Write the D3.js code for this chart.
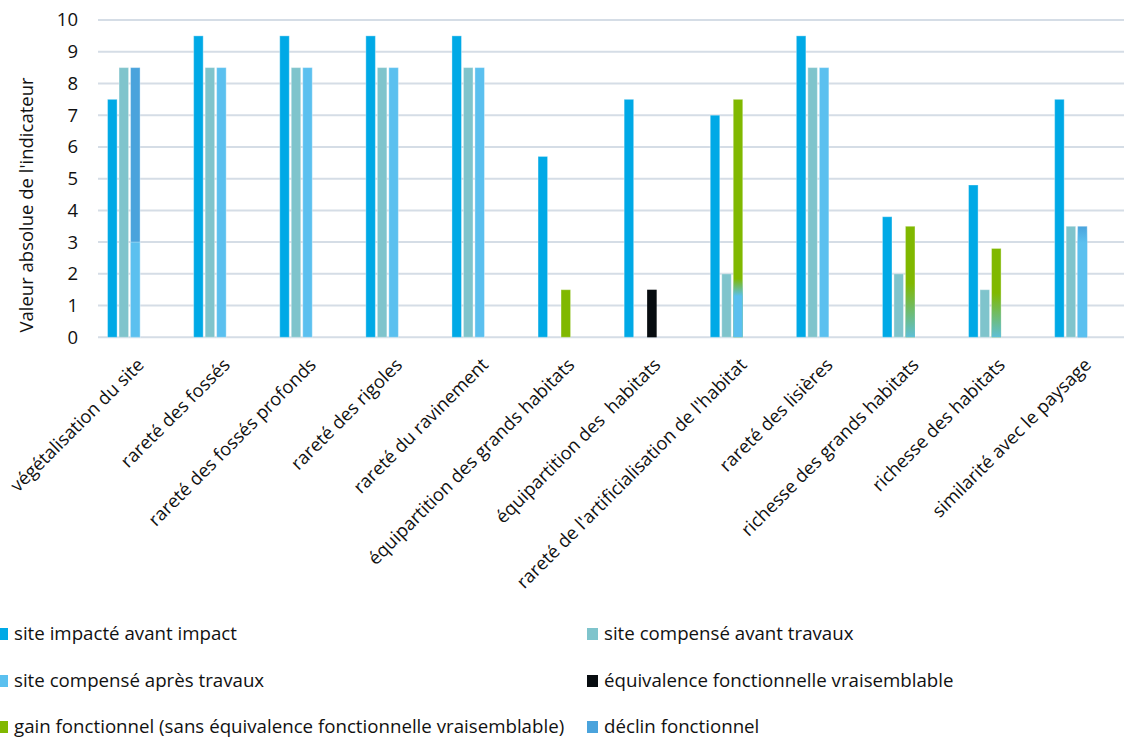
<!DOCTYPE html>
<html lang="fr">
<head>
<meta charset="utf-8">
<script src="https://cdn.jsdelivr.net/npm/d3@7"></script>
<style>
  html, body { margin: 0; padding: 0; background: #ffffff; }
  svg { display: block; font-family: "Open Sans", "Noto Sans", sans-serif; }
</style>
</head>
<body>
<svg id="chart" width="1124" height="740"></svg>
<script>
// Indicateurs évalués
const categories = [
  "végétalisation du site",
  "rareté des fossés",
  "rareté des fossés profonds",
  "rareté des rigoles",
  "rareté du ravinement",
  "équipartition des grands habitats",
  "équipartition des  habitats",
  "rareté de l'artificialisation de l'habitat",
  "rareté des lisières",
  "richesse des grands habitats",
  "richesse des habitats",
  "similarité avec le paysage"
];

// Valeur absolue de chaque indicateur, par série
const siteImpacteAvant   = [7.5, 9.5, 9.5, 9.5, 9.5, 5.7, 7.5, 7.0, 9.5, 3.8, 4.8, 7.5];
const siteCompenseAvant  = [8.5, 8.5, 8.5, 8.5, 8.5, 0,   0,   2.0, 8.5, 2.0, 1.5, 3.5];
const siteCompenseApres  = [3.0, 8.5, 8.5, 8.5, 8.5, 0,   0,   1.85, 8.5, 1.7, 1.4, 3.5];
const equivalence        = [0,   0,   0,   0,   0,   0,   1.5, 0,   0,   0,   0,   0];
const gainFonctionnel    = [0,   0,   0,   0,   0,   1.5, 0,   7.5, 0,   3.5, 2.8, 0];
const declinFonctionnel  = [8.5, 0,   0,   0,   0,   0,   0,   0,   0,   0,   0,   3.5];

const seriesNames = [
  "site impacté avant impact",
  "site compensé avant travaux",
  "site compensé après travaux",
  "équivalence fonctionnelle vraisemblable",
  "gain fonctionnel (sans équivalence fonctionnelle vraisemblable)",
  "déclin fonctionnel"
];

const yTicks = [0, 1, 2, 3, 4, 5, 6, 7, 8, 9, 10];

// ---- styles ----
const colors = ["#00a9e6", "#7fc4cc", "#5bc0ef", "#070c10", "#80b800", "#4aa3dc"];
// slot de chaque série dans le groupe (les bilans se superposent au site compensé après travaux)
const slotOf = [0, 1, 2, 2, 2, 2];
// début du fondu (fraction de la hauteur) du site compensé après travaux
const apresFadeStart = [1, 1, 1, 1, 1, 1, 1, 0.7, 1, 0.05, 0.05, 0.85];
const textColor = "#111";

const seriesValues = [siteImpacteAvant, siteCompenseAvant, siteCompenseApres,
                      equivalence, gainFonctionnel, declinFonctionnel];

const svg = d3.select("#chart");
const W = 1124, H = 740;
svg.append("rect").attr("width", W).attr("height", H).attr("fill", "#fff");

const plotLeft = 98, bandStep = 86.1;
const x = d3.scaleBand()
  .domain(categories)
  .range([plotLeft, plotLeft + bandStep * categories.length])
  .paddingInner(0).paddingOuter(0);

const xs = d3.scaleBand()
  .domain(d3.range(6))
  .range([0, x.bandwidth()])
  .paddingInner(0.17)
  .paddingOuter(0.83);

const y = d3.scaleLinear().domain([0, 10]).range([337.3, 20]);

// Grille horizontale
svg.append("g")
  .selectAll("line")
  .data(yTicks)
  .join("line")
  .attr("x1", plotLeft)
  .attr("x2", W)
  .attr("y1", d => y(d))
  .attr("y2", d => y(d))
  .attr("stroke", "#d5dde6")
  .attr("stroke-width", 2);

// Axe vertical (libellés seulement)
const yAxis = d3.axisLeft(y).tickValues(yTicks).tickSize(0).tickPadding(0);
const gy = svg.append("g").attr("transform", "translate(78,0)").call(yAxis);
gy.select(".domain").remove();
gy.selectAll("text")
  .attr("font-family", "Open Sans, sans-serif")
  .attr("font-size", 18.5)
  .attr("fill", textColor);

// Titre de l'axe vertical
svg.append("text")
  .attr("transform", "translate(33,205) rotate(-90)")
  .attr("text-anchor", "middle")
  .attr("font-size", 18.5)
  .attr("fill", textColor)
  .text("Valeur absolue de l'indicateur");

// Dégradés pour le site compensé après travaux
const defs = svg.append("defs");
categories.forEach((c, i) => {
  const g = defs.append("linearGradient")
    .attr("id", "fade" + i)
    .attr("x1", 0).attr("y1", 1).attr("x2", 0).attr("y2", 0);
  const f = apresFadeStart[i];
  g.append("stop").attr("offset", 0).attr("stop-color", colors[2]).attr("stop-opacity", f < 0.1 ? 0.9 : 1);
  g.append("stop").attr("offset", f).attr("stop-color", colors[2]).attr("stop-opacity", f < 0.1 ? 0.85 : 1);
  g.append("stop").attr("offset", 1).attr("stop-color", colors[2]).attr("stop-opacity", f >= 1 ? 1 : 0);
});

// Ordre de tracé : séries 1, 2, puis bilans (4-6), puis site compensé après travaux par-dessus
const drawOrder = [0, 1, 3, 4, 5, 2];
const bars = [];
drawOrder.forEach(s => {
  seriesValues[s].forEach((v, i) => {
    if (v > 0) bars.push({ s, i, v });
  });
});

const gBars = svg.append("g");
gBars.selectAll("rect")
  .data(bars)
  .join("rect")
  .attr("x", d => x(categories[d.i]) + xs(slotOf[d.s]))
  .attr("width", xs.bandwidth())
  .attr("y", d => y(d.v))
  .attr("height", d => y(0) - y(d.v))
  .attr("fill", d => d.s === 2 ? `url(#fade${d.i})` : colors[d.s])
  .attr("stroke", d => (d.s === 3 || (d.s === 2 && apresFadeStart[d.i] < 1)) ? "none" : "rgba(255,255,255,0.35)")
  .attr("stroke-width", 1);

// Libellés des catégories, inclinés à 45°
svg.append("g")
  .selectAll("text")
  .data(categories)
  .join("text")
  .attr("transform", d => `translate(${x(d) + x.bandwidth() / 2 + 4},366) rotate(-45)`)
  .attr("text-anchor", "end")
  .attr("font-size", 18.3)
  .attr("fill", textColor)
  .style("white-space", "pre")
  .text(d => d);

// Légende sur deux colonnes
const legendCols = [-3, 587];
const legendRows = [640, 687, 733];
const legend = svg.append("g")
  .selectAll("g")
  .data(seriesNames.map((name, k) => ({ name, k })))
  .join("g")
  .attr("transform", d => `translate(${legendCols[d.k % 2]},${legendRows[Math.floor(d.k / 2)]})`);
legend.append("rect")
  .attr("x", 0).attr("y", -12)
  .attr("width", 11).attr("height", 12)
  .attr("fill", d => colors[d.k]);
legend.append("text")
  .attr("x", 17)
  .attr("font-size", 18.7)
  .attr("fill", textColor)
  .text(d => d.name);
</script>
</body>
</html>
